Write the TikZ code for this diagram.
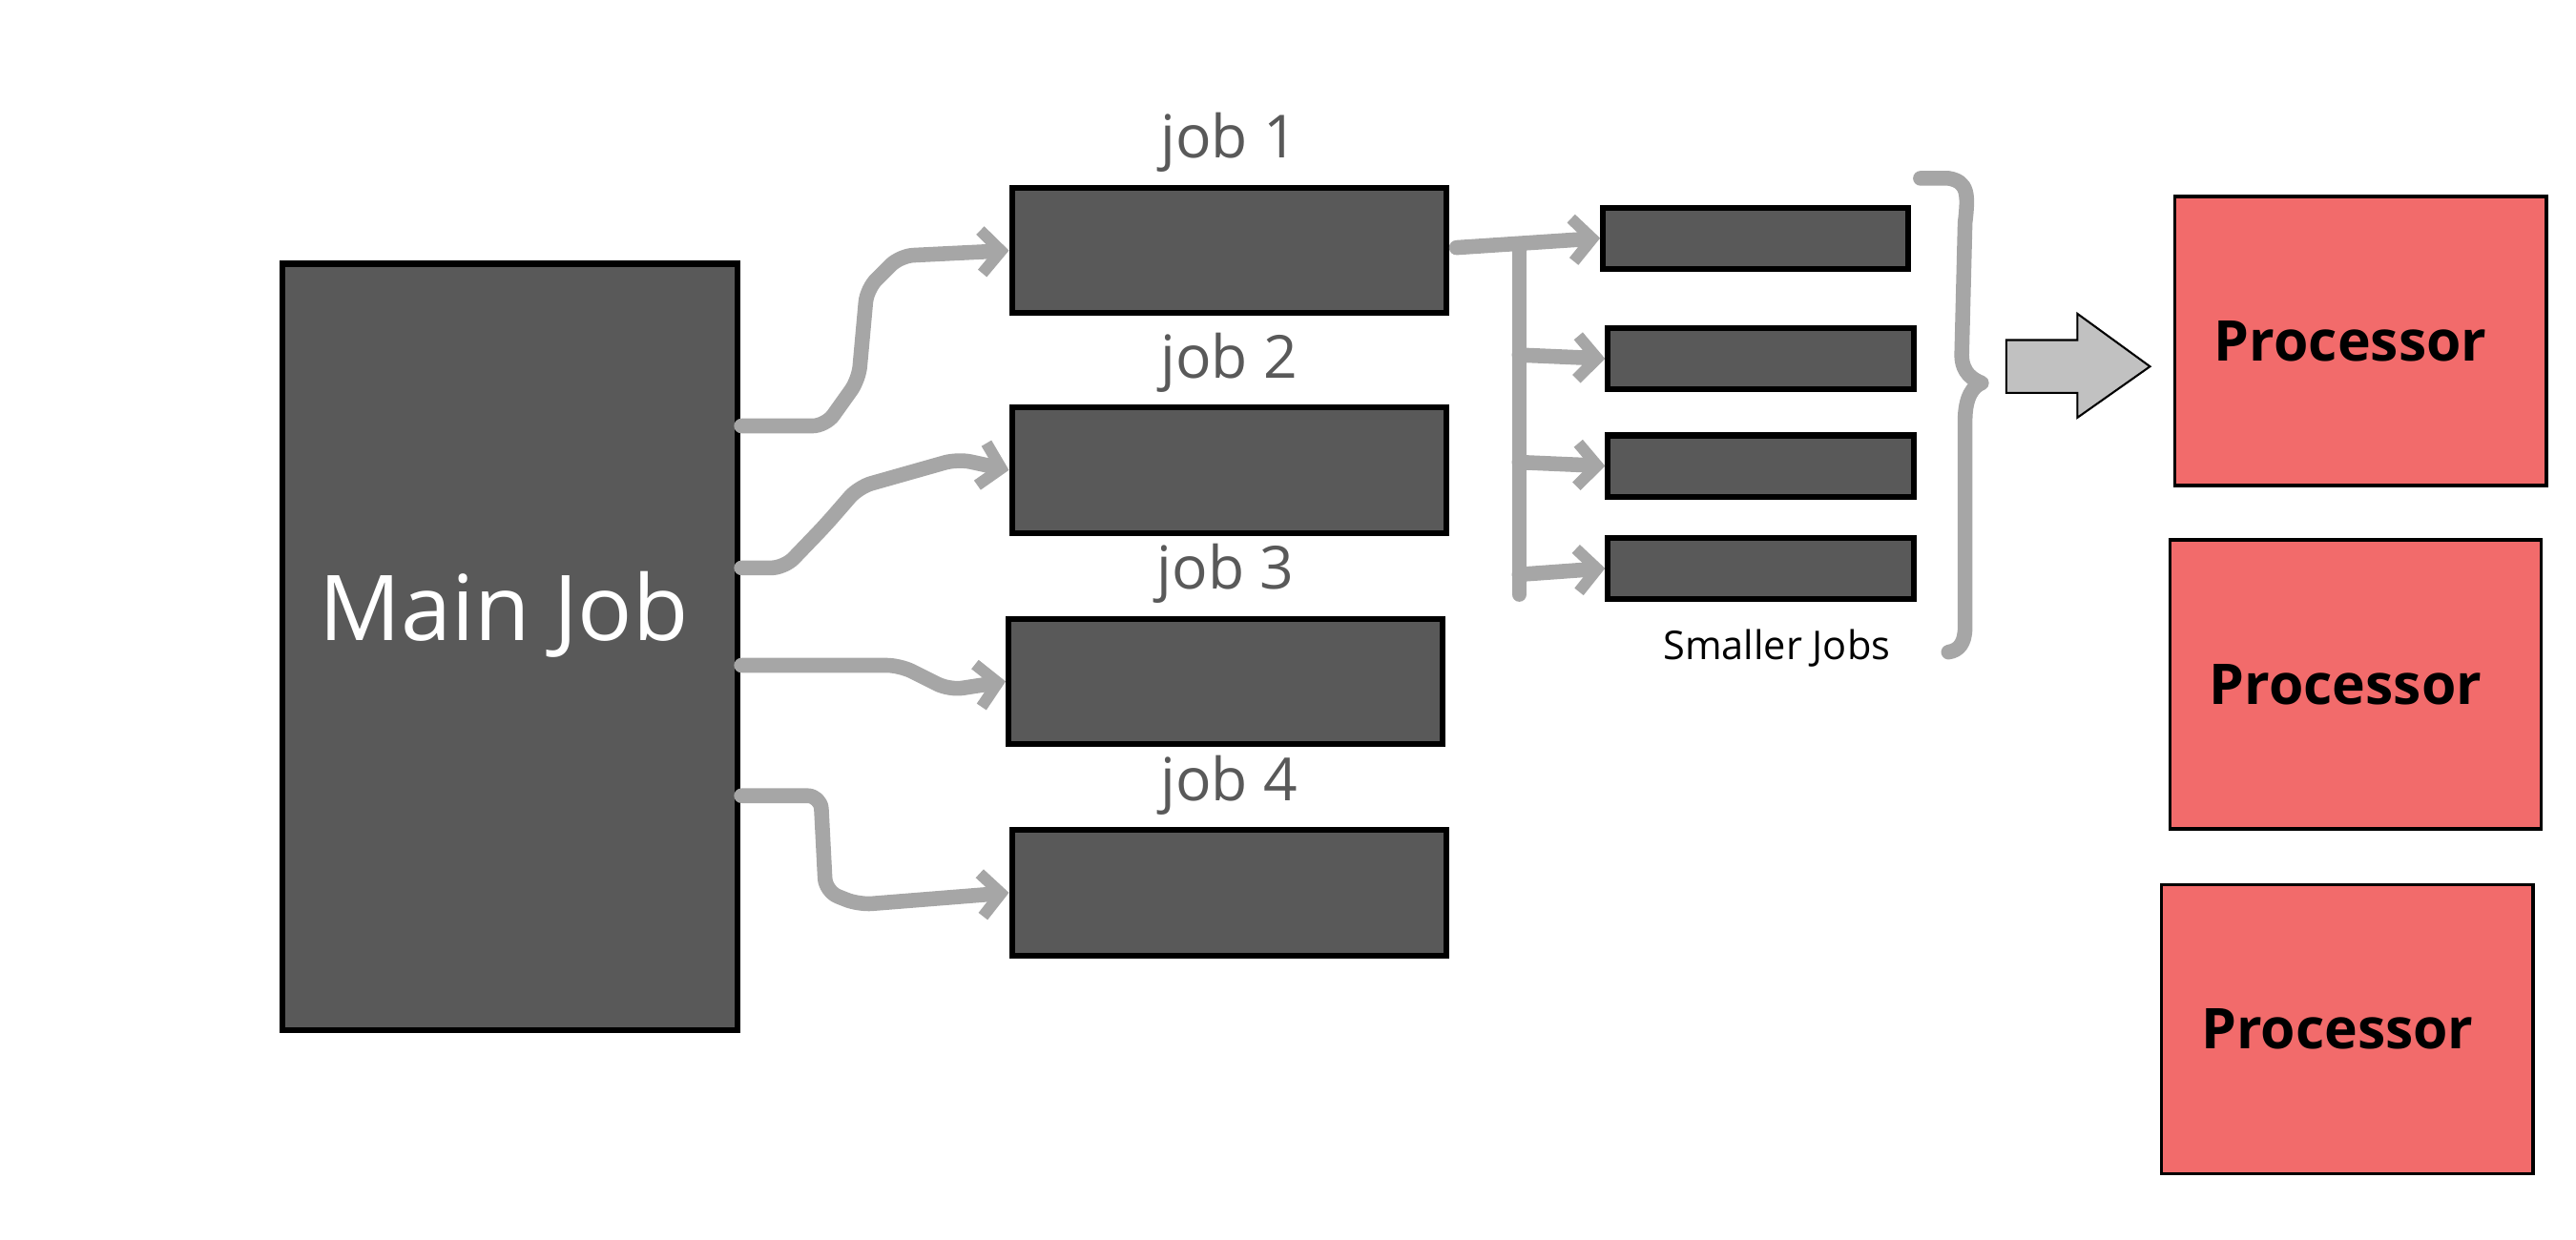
\documentclass[tikz,border=0pt]{standalone}
\usepackage{fontspec}
\setmainfont{Open Sans}
\usetikzlibrary{arrows.meta}
\begin{document}
\begin{tikzpicture}[x=1pt,y=-1pt,
 box/.style={draw=black,line width=3.5pt,fill=darkbox},
 proc/.style={draw=black,line width=2pt,fill=procred},
 con/.style={draw=conn,line width=9pt,line cap=round,line join=round,rounded corners=8pt,-{Straight Barb[length=12pt,width=26pt,line width=7pt]}},
 lbl/.style={text=darkbox,font=\fontsize{36}{40}\selectfont}]
\definecolor{darkbox}{HTML}{595959}
\definecolor{procred}{HTML}{F26B6B}
\definecolor{conn}{HTML}{A6A6A6}
\useasboundingbox (0,0) rectangle (1560,751);
\node[box,minimum width=276pt,minimum height=464pt,anchor=north west,inner sep=0] (main) at (169,158) {};
\node[text=white,font=\fontsize{55}{60}\selectfont] (mt) at (305,372) {Main Job};
\foreach \i/\x/\y in {1/611/112,2/611/245,3/609/373,4/611/501}{
 \node[box,minimum width=263pt,minimum height=76pt,anchor=north west,inner sep=0] (j\i) at (\x,\y) {};
 \node[lbl,anchor=south] (l\i) at ([yshift=4pt]j\i.north) {job \i};
}
\foreach \i/\x/\y in {1/969/124,2/972/197,3/972/262,4/972/324}{
 \node[box,minimum width=185pt,minimum height=37pt,anchor=north west,inner sep=0] (s\i) at (\x,\y) {};
}
\node[font=\fontsize{24}{28}\selectfont,anchor=north] (sm) at (1076,378) {Smaller Jobs};
\foreach \i/\x/\y in {1/1316/118,2/1313/326,3/1308/535}{
 \node[proc,minimum width=225pt,minimum height=175pt,anchor=north west,inner sep=0,font=\bfseries\fontsize{34}{38}\selectfont] (p\i) at (\x,\y) {\hspace*{-12pt}Processor};
}
\coordinate (m1) at (449,258); \coordinate (m2) at (449,344);
\coordinate (m3) at (449,403); \coordinate (m4) at (449,482);
\draw[con] (m1) -- (500,258) -- (520,230) -- (525,175) -- (545,155) -- (j1.west);
\draw[con] (m2) -- (475,344) -- (500,318) -- (520,295) -- (580,278) -- (j2.west);
\draw[con] (m3) -- (545,403) -- (575,418) -- (j3.west);
\draw[con] (m4) -- (497,482) -- (500,540) -- (520,548) -- (j4.west);
\coordinate (t1) at (882,150); \coordinate (t2) at (920,152); \coordinate (t3) at (920,360);
\draw[con] (t1) -- (s1.west);
\draw[draw=conn,line width=9pt,line cap=round] (t2) -- (t3);
\draw[con] (920,215) -- (s2.west);
\draw[con] (920,280) -- (s3.west);
\draw[con] (920,348) -- (s4.west);
\draw[draw=conn,line width=9pt,line cap=round,line join=round] (1163,108) -- (1180,108) .. controls (1192,110) and (1192,118) .. (1190,135) -- (1188,215) .. controls (1188,226) and (1195,230) .. (1200,232) .. controls (1195,234) and (1190,240) .. (1190,255) -- (1190,380) .. controls (1190,390) and (1186,394) .. (1180,395);
\draw[draw=black,fill=conn!70,line width=1.2pt] (1215,206) -- (1258,206) -- (1258,190) -- (1302,222) -- (1258,253) -- (1258,238) -- (1215,238) -- cycle;
\end{tikzpicture}
\end{document}
